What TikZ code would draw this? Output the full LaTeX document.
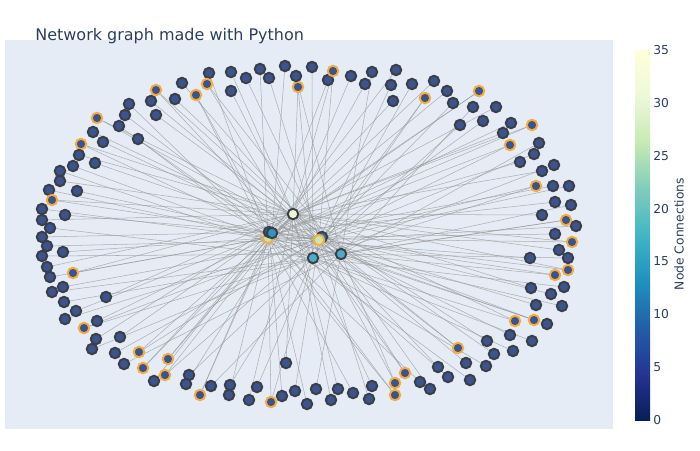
\documentclass[tikz,border=0pt]{standalone}
\usepackage{fontspec}
\setmainfont{DejaVu Sans}
\usetikzlibrary{positioning}
\definecolor{plotbg}{RGB}{229,236,246}
\definecolor{titleblue}{RGB}{42,63,95}
\definecolor{leaffill}{RGB}{60,83,140}
\definecolor{leafline}{RGB}{58,62,72}
\definecolor{ringorange}{RGB}{243,172,62}
\definecolor{edgegray}{RGB}{150,150,150}
\definecolor{hubA}{RGB}{240,243,210}
\definecolor{hubB}{RGB}{40,108,160}
\definecolor{hubC}{RGB}{45,150,192}
\definecolor{hubD}{RGB}{198,224,176}
\definecolor{hubE}{RGB}{42,118,168}
\definecolor{hubF}{RGB}{204,228,178}
\definecolor{hubG}{RGB}{72,176,198}
\definecolor{hubH}{RGB}{76,170,196}
\pgfdeclareverticalshading{ylgnbu}{100bp}{rgb(0bp)=(0.031,0.114,0.345);
  rgb(25bp)=(0.031,0.114,0.345); rgb(31.25bp)=(0.145,0.204,0.580);
  rgb(37.5bp)=(0.133,0.369,0.659); rgb(43.75bp)=(0.114,0.569,0.753);
  rgb(50bp)=(0.255,0.714,0.769); rgb(56.25bp)=(0.498,0.804,0.733);
  rgb(62.5bp)=(0.780,0.914,0.706); rgb(68.75bp)=(0.929,0.973,0.851);
  rgb(75bp)=(1,1,0.851); rgb(100bp)=(1,1,0.851)}
\pgfdeclarelayer{edges}
\pgfsetlayers{edges,main}
\tikzset{
  leaf/.style={circle,draw=leafline,fill=leaffill,line width=1.1pt,
              minimum size=0.21cm,inner sep=0pt},
  leafring/.style={leaf,draw=ringorange},
  hub/.style={leaf,fill=#1},
  hubring/.style={leafring,fill=#1},
  link/.style={edgegray,line width=0.3pt,opacity=0.7},
  cbtick/.style={font=\fontsize{7}{8}\selectfont,text=titleblue,
                anchor=west,inner sep=0pt},
}

\begin{document}
\begin{tikzpicture}[x=0.02cm,y=-0.02cm]
  \useasboundingbox (0,0) rectangle (700,450);
  \begin{pgfonlayer}{edges}
    \fill[plotbg] (5,40) rectangle (613,429);
  \end{pgfonlayer}
  \node[anchor=base west,inner sep=0pt,text=titleblue,
        font=\fontsize{9.1}{11}\selectfont] (title) at (35,40.5)
        {Network graph made with Python};

  % hubs
  \node[hubring=hubD] (hub4) at (268,238) {};
  \node[hub=hubB] (hub2) at (269,232) {};
  \node[hub=hubC] (hub3) at (272,233) {};
  \node[hub=hubE] (hub5) at (322,237) {};
  \node[hubring=hubF] (hub6) at (319,240) {};
  \node[hub=hubA] (hub1) at (293,214) {};
  \node[hub=hubG] (hub7) at (313,258) {};
  \node[hub=hubH] (hub8) at (341,254) {};

  % outer nodes: x/y/ring
  \foreach [count=\i] \x/\y/\r in {
    209/73/0, 182/83/0, 207/84/1, 156/90/1, 175/99/0, 196/95/1, 151/101/0,
    129/104/0, 156/115/0, 97/118/1, 125/115/0, 119/126/0, 93/132/0,
    138/139/0, 103/142/0, 81/144/1, 79/155/0, 73/166/0, 95/163/0,
    60/171/0, 60/181/0, 49/190/0, 77/191/0, 52/200/1, 42/209/0, 65/215/0,
    42/220/0, 50/228/0, 42/237/0, 47/246/0, 63/252/0, 42/256/0, 47/267/0,
    73/273/1, 50/277/0, 63/287/0, 52/292/0, 106/297/0, 64/302/0, 76/311/0,
    65/319/0, 97/321/0, 84/328/1, 96/339/0, 92/349/0, 120/337/0,
    115/353/0, 139/352/1, 124/364/0, 143/368/1, 168/359/1, 154/381/0,
    165/375/1, 189/375/0, 186/384/0, 211/386/0, 200/395/1, 230/385/0,
    229/395/0, 257/387/0, 249/400/0, 271/402/1, 282/396/0, 295/391/0,
    307/404/0, 316/389/0, 331/400/0, 338/389/0, 353/393/0, 369/399/0,
    372/386/0, 286/363/0, 395/383/1, 395/395/1, 405/373/1, 420/382/0,
    430/389/0, 438/367/0, 448/377/0, 470/380/0, 466/363/0, 486/366/0,
    458/348/1, 487/341/0, 494/354/0, 513/351/0, 510/335/0, 532/341/0,
    515/321/1, 534/320/1, 547/324/0, 536/305/0, 562/306/0, 551/294/0,
    531/288/0, 564/287/0, 555/275/1, 568/270/1, 530/258/0, 568/258/0,
    559/250/0, 572/242/1, 555/234/0, 576/226/0, 566/220/1, 542/215/0,
    571/205/0, 555/202/0, 569/186/0, 553/186/0, 536/186/1, 542/171/0,
    554/165/0, 520/162/0, 534/154/0, 510/145/1, 539/143/0, 503/133/0,
    532/125/1, 511/123/0, 483/121/0, 460/125/0, 496/107/0, 473/107/0,
    479/91/1, 453/103/0, 447/91/0, 425/98/1, 434/81/0, 412/84/0,
    393/101/0, 391/85/0, 396/70/0, 372/72/0, 365/84/0, 351/76/0,
    328/80/0, 333/71/1, 312/67/0, 298/87/1, 296/76/0, 285/66/0,
    269/78/0, 260/69/0, 246/78/0, 231/91/0, 231/72/0} {
    \ifnum\r=1 \def\st{leafring}\else\def\st{leaf}\fi
    \node[\st] (v\i) at (\x,\y) {};
    \pgfmathtruncatemacro\h{{1,4,6,7,1,8,3,6,4,5,1,7,2,6,4,8,1}[mod(\i,17)]}
    \begin{pgfonlayer}{edges}
      \draw[link] (v\i) -- (hub\h);
      \ifnum\r=1
        \pgfmathtruncatemacro\hh{{4,6,1,8,7,6,4,1,3,7,6,4,8,1,5,6,2}[mod(\i,17)]}
        \draw[link] (v\i) -- (hub\hh);
      \fi
    \end{pgfonlayer}
  }

  % colour bar
  \shade[shading=ylgnbu] (635,50) rectangle (650,420);
  \foreach \v [count=\j from 0] in {0,5,...,35}
    \node[cbtick] (cb\v) at (653,420-52.86*\j) {\v};
  \node[rotate=90,text=titleblue,font=\fontsize{7}{8}\selectfont,
        inner sep=0pt] (cbtitle) at (679,234) {Node Connections};
\end{tikzpicture}
\end{document}
